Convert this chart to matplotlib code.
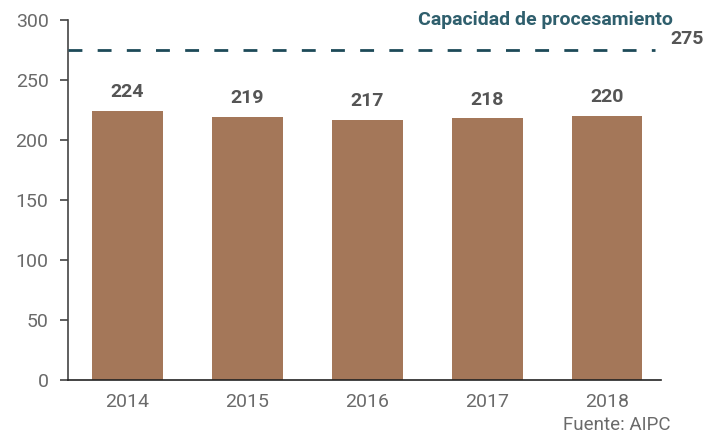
import matplotlib as mpl
mpl.use('Agg')
import matplotlib.pyplot as plt

plt.rcParams['font.family'] = ['Roboto', 'DejaVu Sans']

years = ['2014', '2015', '2016', '2017', '2018']
values = [224, 219, 217, 218, 220]
capacity = 275

bar_color = '#a47759'
teal = '#2f5f6d'
label_gray = '#555555'
tick_gray = '#6a6a6a'

fig = plt.figure(figsize=(7.05, 4.34), dpi=100)
ax = fig.add_axes([0.0965, 0.1244, 0.8411, 0.8296])

x = range(len(years))
ax.bar(x, values, width=0.59, color=bar_color, zorder=2)
for xi, v in zip(x, values):
    ax.annotate(str(v), (xi, v), xytext=(0, 7), textcoords='offset points',
                ha='center', va='bottom', fontsize=14, fontweight='bold',
                color=label_gray)

# capacity line
ax.plot([-0.5, 4.4], [capacity, capacity], color='#1d4a58', lw=2,
        dashes=(5, 5.5), zorder=3)
ax.text(4.53, capacity + 2, str(capacity), ha='left', va='bottom',
        fontsize=14, fontweight='bold', color=label_gray, clip_on=False)
ax.text(4.55, 300, 'Capacidad de procesamiento', ha='right', va='center',
        fontsize=14, fontweight='bold', color=teal, clip_on=False)

ax.set_xlim(-0.496, 4.45)
ax.set_ylim(0, 300)
ax.set_yticks(range(0, 301, 50))
ax.set_xticks(list(x))
ax.set_xticklabels(years)
ax.tick_params(axis='y', length=6, width=1.2, colors='#444444', labelcolor=tick_gray,
               labelsize=14, pad=8)
ax.tick_params(axis='x', length=0, labelcolor=tick_gray, labelsize=14, pad=9)
for s in ['top', 'right']:
    ax.spines[s].set_visible(False)
ax.spines['left'].set_color('#444444')
ax.spines['bottom'].set_color('#222222')
for s in ['left', 'bottom']:
    ax.spines[s].set_linewidth(1.2)

fig.text(0.951, 0.021, 'Fuente: AIPC', ha='right', va='center', fontsize=13.5,
         color=tick_gray)

fig.savefig('out.png', dpi=100)
